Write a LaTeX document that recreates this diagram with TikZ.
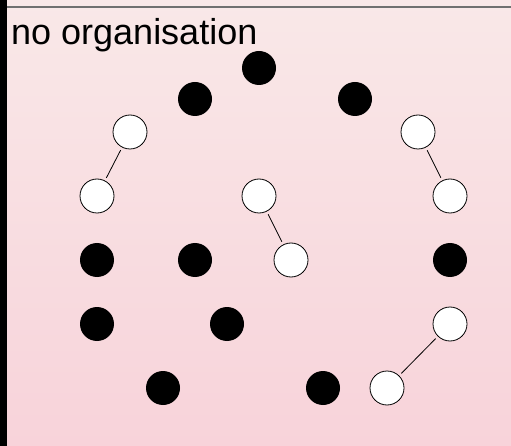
\documentclass[tikz,border=0pt]{standalone}
\usepackage{fontspec}
\setmainfont{Liberation Sans}
\definecolor{bgtop}{HTML}{F9E8E8}
\definecolor{bgbot}{HTML}{F8D3DA}
\definecolor{rulegray}{HTML}{707070}
\begin{document}
\begin{tikzpicture}[x=1pt,y=-1pt,
  wnode/.style={circle,draw=black,line width=0.8pt,fill=white,minimum size=34pt,inner sep=0pt},
  bnode/.style={circle,fill=black,minimum size=34pt,inner sep=0pt},
  link/.style={draw=black,line width=0.8pt,shorten <=3pt,shorten >=3pt}]
\useasboundingbox (0,0) rectangle (511,446);
\shade[top color=bgtop,bottom color=bgbot] (0,0) rectangle (511,446);
\fill[black] (0,0) rectangle (7,446);
\draw[rulegray,line width=2pt] (7,7) -- (511,7);
\node[anchor=base west,inner sep=0pt,font=\fontsize{36}{42}\selectfont] (title) at (11,45) {no organisation};
% black nodes
\node[bnode] (b1) at (259,68) {};
\node[bnode] (b2) at (195,99) {};
\node[bnode] (b3) at (355,99) {};
\node[bnode] (b4) at (97,260) {};
\node[bnode] (b5) at (195,260) {};
\node[bnode] (b6) at (450,260) {};
\node[bnode] (b7) at (97,324) {};
\node[bnode] (b8) at (227,324) {};
\node[bnode] (b9) at (163,388) {};
\node[bnode] (b10) at (323,388) {};
% white nodes
\node[wnode] (w1) at (130,132) {};
\node[wnode] (w2) at (418,132) {};
\node[wnode] (w3) at (97,196) {};
\node[wnode] (w4) at (259,196) {};
\node[wnode] (w5) at (450,196) {};
\node[wnode] (w6) at (291,260) {};
\node[wnode] (w7) at (450,324) {};
\node[wnode] (w8) at (387,388) {};
% links
\draw[link] (w1) -- (w3);
\draw[link] (w2) -- (w5);
\draw[link] (w4) -- (w6);
\draw[link] (w7) -- (w8);
\end{tikzpicture}
\end{document}
